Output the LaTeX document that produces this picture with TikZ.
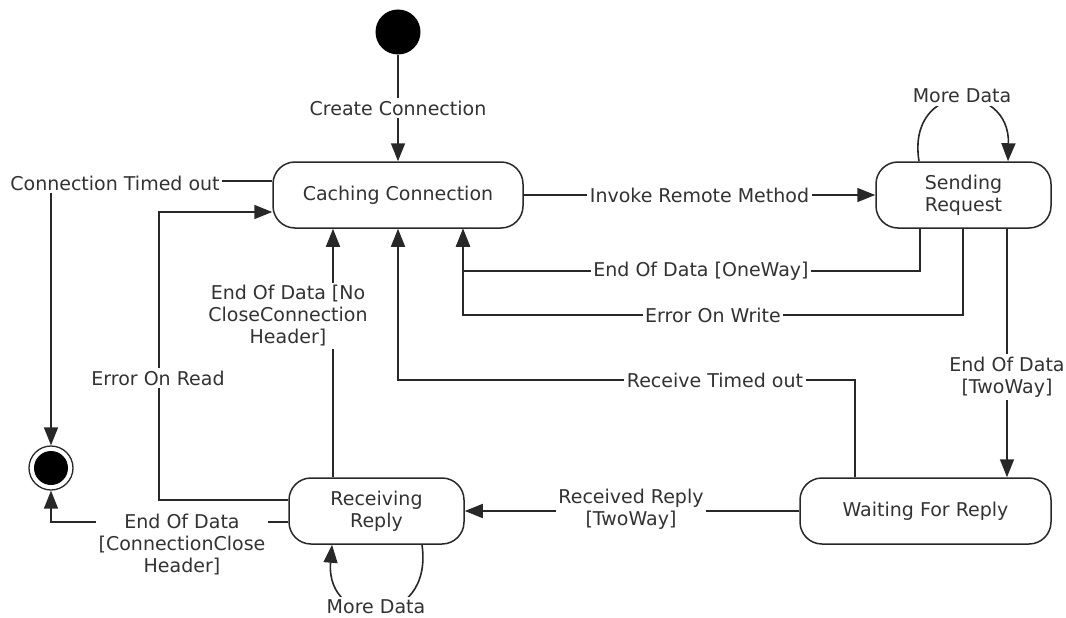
\documentclass[tikz,border=0pt]{standalone}
\usepackage{fontspec}
\setmainfont{DejaVu Sans}
\usetikzlibrary{arrows.meta}
\definecolor{ink}{RGB}{40,40,40}
\definecolor{txt}{RGB}{50,50,50}
\begin{document}
\begin{tikzpicture}[x=1pt,y=-1pt,
  font=\fontsize{19}{22}\selectfont,
  every node/.style={text=txt},
  statebox/.style={draw=ink, line width=1.5pt, rounded corners=22pt, minimum height=66pt, inner sep=0pt, align=center},
  lab/.style={fill=white, inner sep=2.5pt, align=center},
  conn/.style={draw=ink, line width=1.6pt},
  arr/.style={conn, -{Triangle[length=18pt,width=14pt]}}
]
\useasboundingbox (0,0) rectangle (1066,618);

% states
\node[circle, fill=black, minimum size=45pt, inner sep=0pt] (init) at (398,32) {};
\node[circle, draw=ink, line width=1.3pt, minimum size=44pt, inner sep=0pt] (final) at (51,468) {};
\fill[black] (final.center) circle (17pt);
\node[statebox, minimum width=250pt] (caching) at (398,195) {Caching Connection};
\node[statebox, minimum width=175pt] (sending) at (963.5,195) {Sending\\Request};
\node[statebox, minimum width=175pt] (receiving) at (376.5,511) {Receiving\\Reply};
\node[statebox, minimum width=251pt] (waiting) at (925.5,511) {Waiting For Reply};

% Create Connection
\draw[arr] (init) -- (caching) node[lab, midway] (lcreate) {Create Connection};

% Connection Timed out
\draw[arr] ([yshift=14pt]caching.west) -| (final.north);
\node[lab] (lcto) at (115,183) {Connection Timed out};

% Error On Read
\draw[arr] ([yshift=11pt]receiving.west) -| (159,212) -- ([yshift=-17pt]caching.west);
\node[lab] (leor) at (158,378) {Error On Read};

% End Of Data [No CloseConnection Header]
\draw[arr] ([xshift=-43.5pt]receiving.north) -- ([xshift=-65pt]caching.south);
\node[lab] (lnoclose) at (288,316) {End Of Data [No\\CloseConnection\\Header]};

% Invoke Remote Method
\draw[arr] (caching.east) -- (sending.west) node[lab, midway] (linvoke) {Invoke Remote Method};

% End Of Data [OneWay]
\draw[arr] ([xshift=-43.5pt]sending.south) |- (463,271) -- ([xshift=65pt]caching.south);
\node[lab] (loneway) at (701,271) {End Of Data [OneWay]};

% Error On Write
\draw[arr] ([xshift=-0.5pt]sending.south) |- (463,315) -- ([xshift=65pt]caching.south);
\node[lab] (leow) at (713,315) {Error On Write};

% End Of Data [TwoWay]
\draw[arr] ([xshift=43.5pt]sending.south) -- ([xshift=81.5pt]waiting.north);
\node[lab] (ltwoway) at (1007,377) {End Of Data\\{}[TwoWay]};

% Receive Timed out
\draw[arr] ([xshift=-70.5pt]waiting.north) |- (398,380) -- (caching.south);
\node[lab] (lrto) at (715,380) {Receive Timed out};

% Received Reply [TwoWay]
\draw[arr] (waiting.west) -- (receiving.east);
\node[lab] (lrr) at (631,509) {Received Reply\\{}[TwoWay]};

% End Of Data [ConnectionClose Header]
\draw[arr] ([yshift=-11pt]receiving.west) -| (final.south);
\node[lab] (lclose) at (182,545) {End Of Data\\{}[ConnectionClose\\Header]};

% loops
\draw[arr] ([xshift=-44.5pt]sending.north) .. controls (906,80) and (1010,80) .. ([xshift=44.5pt]sending.north);
\node[lab] (lmore1) at (962,96) {More Data};
\draw[arr] ([xshift=45.5pt]receiving.south) .. controls (434,630) and (325,630) .. ([xshift=-44.5pt]receiving.south);
\node[lab] (lmore2) at (376,607) {More Data};
\end{tikzpicture}
\end{document}
